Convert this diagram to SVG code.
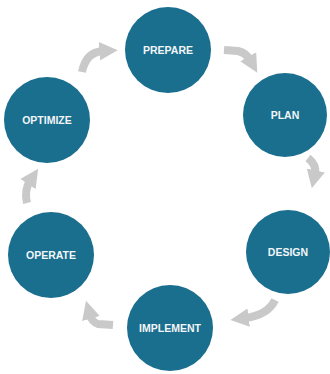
<svg xmlns="http://www.w3.org/2000/svg" width="330" height="374" viewBox="0 0 330 374">
<defs>
<marker id="ah" viewBox="0 0 10 10" refX="2" refY="5" markerWidth="2.3" markerHeight="2.5" markerUnits="strokeWidth" orient="auto">
<path d="M0,0 L10,5 L0,10 z" fill="#c9c9c9"/>
</marker>
</defs>
<style>
.node circle{fill:#1a6e8e}
.node text{fill:#f2f6f8;font-family:"Liberation Sans",Arial,sans-serif;font-weight:bold;font-size:10.5px;text-anchor:middle;dominant-baseline:central}
.conn path{fill:none;stroke:#c9c9c9;stroke-width:8;marker-end:url(#ah)}
</style>
<rect width="330" height="374" fill="#ffffff"/>
<g class="conn">
<path d="M82,72 Q86,52 103,51"/>
<path d="M224,50 L238,51 Q246,53 250,60"/>
<path d="M308,158 Q317,165 315,174"/>
<path d="M275,300 Q268,315 245,318"/>
<path d="M113,325 L98,324 Q92,322 90,315"/>
<path d="M27,203 Q24,190 30,181"/>
</g>
<g id="prepare" class="node"><circle cx="168" cy="50" r="43"/><text x="168" y="50">PREPARE</text></g>
<g id="plan" class="node"><circle cx="285" cy="115" r="42"/><text x="285" y="115">PLAN</text></g>
<g id="design" class="node"><circle cx="288" cy="252" r="42"/><text x="288" y="252">DESIGN</text></g>
<g id="implement" class="node"><circle cx="170" cy="328" r="43"/><text x="170" y="328">IMPLEMENT</text></g>
<g id="operate" class="node"><circle cx="51" cy="255" r="43"/><text x="51" y="255">OPERATE</text></g>
<g id="optimize" class="node"><circle cx="47" cy="120" r="43"/><text x="47" y="120">OPTIMIZE</text></g>
</svg>
